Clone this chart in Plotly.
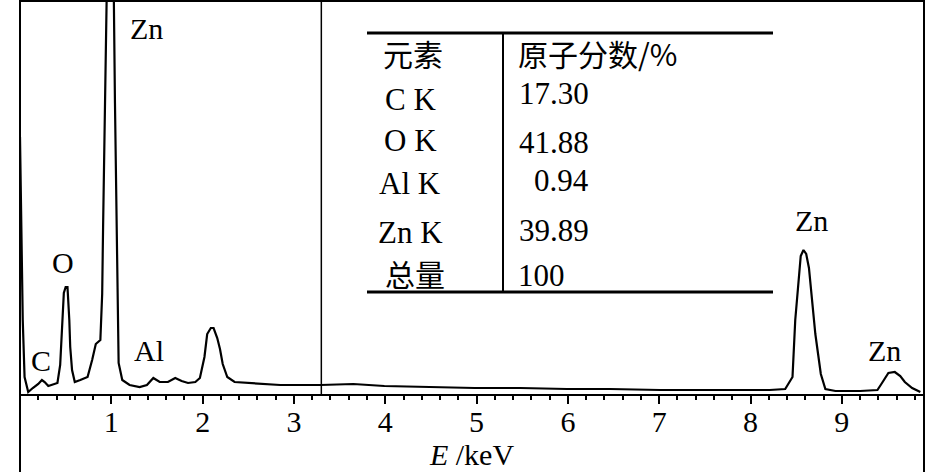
import plotly.graph_objects as go

# EDS spectrum (energy in keV, counts in arbitrary units)
energy = [0.00, 0.01, 0.03, 0.05, 0.09, 0.14, 0.20, 0.24, 0.27, 0.31, 0.35, 0.41, 0.44, 0.46, 0.48,
          0.50, 0.52, 0.54, 0.55, 0.57, 0.60, 0.66, 0.74, 0.79, 0.83, 0.88, 0.90, 0.91, 0.94, 0.96,
          1.00, 1.02, 1.04, 1.06, 1.08, 1.12, 1.20, 1.31, 1.39, 1.46, 1.53, 1.62, 1.70, 1.77, 1.84,
          1.92, 1.97, 2.02, 2.05, 2.09, 2.12, 2.16, 2.19, 2.22, 2.27, 2.35, 2.52, 2.85, 3.29, 3.65,
          3.99, 4.49, 4.98, 5.48, 5.99, 6.46, 7.01, 7.67, 8.21, 8.38, 8.46, 8.49, 8.52, 8.55, 8.58,
          8.61, 8.64, 8.67, 8.71, 8.74, 8.77, 8.82, 8.93, 9.20, 9.39, 9.44, 9.51, 9.58, 9.64, 9.69,
          9.77, 9.86]
counts = [257, 174, 74, 17, 2, 6, 10, 14, 12, 8, 9, 11, 29, 64, 101,
          107, 107, 74, 47, 24, 12, 14, 17, 34, 50, 54, 100, 167, 337, 460,
          520, 460, 291, 131, 31, 14, 9, 7, 9, 16, 12, 12, 16, 13, 11,
          12, 16, 37, 60, 66, 66, 56, 45, 30, 17, 12, 11, 9, 9, 10,
          8, 7, 6, 6, 5, 5, 4, 4, 4, 5, 17, 74, 111, 138, 144,
          140, 126, 96, 60, 40, 20, 5, 3, 3, 4, 11, 21, 22, 18, 12,
          6, 2]

# Peak labels
peak_names = ["C", "O", "Zn", "Al", "Zn", "Zn"]
peak_x = [0.23, 0.47, 1.39, 1.41, 8.67, 9.47]
peak_y = [34, 132, 366, 44, 174, 44]

# Inset table
table_elements = ["C K", "O K", "Al K", "Zn K", "总量"]
table_values = ["17.30", "41.88", "0.94", "39.89", "100"]
table_head = ["元素", "原子分数/%"]

xticks = [1, 2, 3, 4, 5, 6, 7, 8, 9]
divider_kev = 3.3

W, H = 945, 472
L, R, T, B = 20, 21, 1, 78
PW, PH = W - L - R, H - T - B


def px(x):
    return (x - L) / PW


def py(y):
    return (H - B - y) / PH


serif = "Liberation Serif, Times New Roman, Times, serif"
cjk = "Noto Sans CJK SC"
FS = 30

fig = go.Figure()
fig.add_trace(go.Scatter(x=energy, y=counts, mode="lines",
                         line=dict(color="black", width=2.2), showlegend=False))

anns = []
for n, x, y in zip(peak_names, peak_x, peak_y):
    anns.append(dict(x=x, y=y, xref="x", yref="y", text=n, showarrow=False,
                     font=dict(family=serif, size=FS, color="black"),
                     xanchor="center", yanchor="middle"))

# table text
anns.append(dict(x=px(413), y=py(53), xref="paper", yref="paper", text=table_head[0],
                 showarrow=False, font=dict(family=cjk, size=30, color="black"),
                 xanchor="center", yanchor="middle"))
anns.append(dict(x=px(516), y=py(53), xref="paper", yref="paper", text=table_head[1],
                 showarrow=False, font=dict(family=cjk, size=30, color="black"),
                 xanchor="left", yanchor="middle"))
row_y_el = [100, 140, 183, 233, 273]
row_y_val = [93, 142, 180, 230, 275]
row_x_el = [410, 410, 410, 410, 415]
row_x_val = [517, 517, 532, 517, 516]
for i, (e, v) in enumerate(zip(table_elements, table_values)):
    fam = cjk if e == "总量" else serif
    sz = 30 if e == "总量" else 31
    anns.append(dict(x=px(row_x_el[i]), y=py(row_y_el[i]), xref="paper", yref="paper", text=e,
                     showarrow=False, font=dict(family=fam, size=sz, color="black"),
                     xanchor="center", yanchor="middle"))
    anns.append(dict(x=px(row_x_val[i]), y=py(row_y_val[i]), xref="paper", yref="paper",
                     text=v, showarrow=False, font=dict(family=serif, size=31, color="black"),
                     xanchor="left", yanchor="middle"))

shapes = [
    # outer frame
    dict(type="line", xref="paper", yref="paper", x0=0, x1=0, y0=py(H), y1=py(0),
         line=dict(color="black", width=2)),
    dict(type="line", xref="paper", yref="paper", x0=px(924), x1=px(924), y0=py(H), y1=py(0),
         line=dict(color="black", width=2)),
    dict(type="line", xref="paper", yref="paper", x0=0, x1=px(924), y0=py(1), y1=py(1),
         line=dict(color="black", width=2)),
    # divider line in spectrum
    dict(type="line", xref="x", yref="paper", x0=divider_kev, x1=divider_kev, y0=0, y1=1,
         line=dict(color="black", width=1.5)),
    # table rules
    dict(type="line", xref="paper", yref="paper", x0=px(367), x1=px(773), y0=py(33), y1=py(33),
         line=dict(color="black", width=3)),
    dict(type="line", xref="paper", yref="paper", x0=px(367), x1=px(773), y0=py(292), y1=py(292),
         line=dict(color="black", width=3)),
    dict(type="line", xref="paper", yref="paper", x0=px(503), x1=px(503), y0=py(33), y1=py(292),
         line=dict(color="black", width=2)),
]

fig.update_layout(
    width=W, height=H,
    margin=dict(l=L, r=R, t=T, b=B),
    paper_bgcolor="white", plot_bgcolor="white",
    xaxis=dict(range=[0, 9.9], tickvals=xticks, ticktext=[str(t) for t in xticks],
               ticks="outside", ticklen=8, tickwidth=2, tickcolor="black",
               showline=True, linecolor="black", linewidth=2,
               showgrid=False, zeroline=False,
               minor=dict(ticks="outside", dtick=0.2, tick0=0, ticklen=4, tickwidth=1.5,
                          tickcolor="black", showgrid=False),
               tickfont=dict(family=serif, size=FS, color="black"),
               ticklabelstandoff=-8,
               title=dict(text="<i>E</i> /keV", font=dict(family=serif, size=FS, color="black"),
                          standoff=7)),
    yaxis=dict(range=[0, PH], visible=False, showgrid=False, zeroline=False),
    annotations=anns, shapes=shapes,
)

fig.write_html("out.html", config={"displayModeBar": False},
               post_script="document.body.style.margin='0';")
